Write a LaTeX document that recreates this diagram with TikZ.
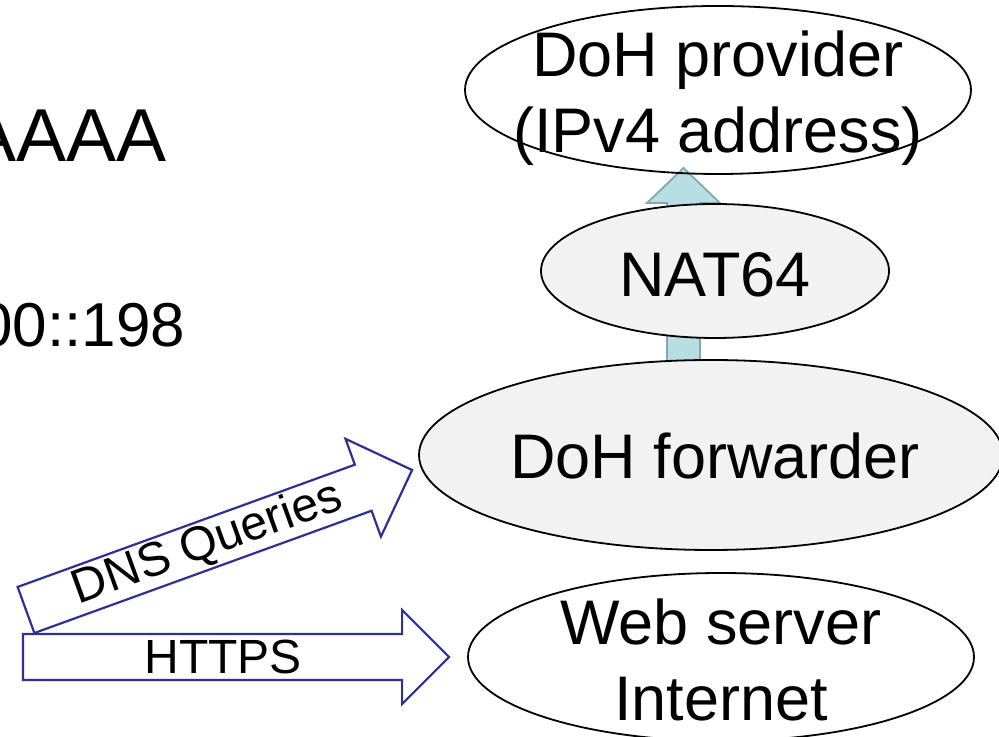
\documentclass[tikz,border=0pt]{standalone}
\usepackage{fontspec}
\setmainfont{Liberation Sans}
\usetikzlibrary{shapes.geometric,calc}

\definecolor{boxgray}{RGB}{242,242,242}
\definecolor{pipeblue}{RGB}{183,222,226}
\definecolor{pipeedge}{RGB}{136,166,168}
\definecolor{flownavy}{RGB}{46,49,146}

\tikzset{
  host/.style={ellipse, draw=black, line width=1.8bp, inner sep=0pt},
  relay/.style={host, fill=boxgray},
  hosttext/.style={align=center, inner sep=0pt, font=\fontsize{63bp}{76bp}\selectfont},
  flowtext/.style={inner sep=0pt, font=\fontsize{48bp}{58bp}\selectfont},
  pipe/.style={fill=pipeblue, draw=pipeedge, line width=1.8bp, line join=miter},
  flow/.style={fill=white, draw=flownavy, line width=2.2bp, line join=miter},
}

% block arrow: [style]{tail}{tip}{half shaft}{half head}{head length}
\newcommand{\fatarrow}[6][]{%
  \coordinate (fa-base) at ($(#3)!#6!(#2)$);
  \draw[#1] ($(#2)!#4!90:(#3)$) -- ($(fa-base)!#4!90:(#3)$) -- ($(fa-base)!#5!90:(#3)$)
    -- (#3) -- ($(fa-base)!#5!-90:(#3)$) -- ($(fa-base)!#4!-90:(#3)$)
    -- ($(#2)!#4!-90:(#3)$) -- cycle;
}

\begin{document}
\begin{tikzpicture}[x=1bp, y=1bp]
  \useasboundingbox (0,0) rectangle (999,737);

  % slide text behind the diagram
  \node[anchor=base east, inner sep=0pt, font=\fontsize{75bp}{90bp}\selectfont] (rr-type) at (167,575) {AAAA};
  \node[anchor=base east, inner sep=0pt, font=\fontsize{62bp}{74bp}\selectfont] (rr-addr) at (185.5,390) {00::198};

  % path through NAT64 up to the provider
  \coordinate (up-tail) at (683.5,282);
  \coordinate (up-tip) at (683.5,569);
  \fatarrow[pipe]{up-tail}{up-tip}{16.5bp}{36.5bp}{35bp}

  % hosts
  \node[host, minimum width=506bp, minimum height=168bp] (provider) at (718,647) {};
  \node[relay, minimum width=348bp, minimum height=134bp] (nat) at (715,466) {};
  \node[relay, minimum width=584bp, minimum height=190bp] (fwd) at (711,282) {};
  \node[host, minimum width=506bp, minimum height=168bp] (web) at (721,80) {};

  \node[hosttext] (provider-txt) at (718,638.5) {DoH provider\\(IPv4 address)};
  \node[hosttext] (nat-txt) at (715,462.5) {NAT64};
  \node[hosttext] (fwd-txt) at (715,281.5) {DoH forwarder};
  \node[hosttext] (web-txt) at (721,77) {Web server\\Internet};

  % client traffic
  \coordinate (dns-tail) at (26,127);
  \coordinate (dns-tip) at ($(fwd.west)+(-6,-15)$);
  \fatarrow[flow]{dns-tail}{dns-tip}{24.5bp}{52bp}{52bp}
  \path (dns-tail) -- (dns-tip) node[flowtext, pos=0.47, sloped] (dns-lbl) {DNS Queries};

  \coordinate (https-tail) at (23,80);
  \coordinate (https-tip) at ($(web.west)+(-18,0)$);
  \fatarrow[flow]{https-tail}{https-tip}{23bp}{47bp}{47bp}
  \path (https-tail) -- (https-tip) node[flowtext, pos=0.47] (https-lbl) {HTTPS};
\end{tikzpicture}
\end{document}
